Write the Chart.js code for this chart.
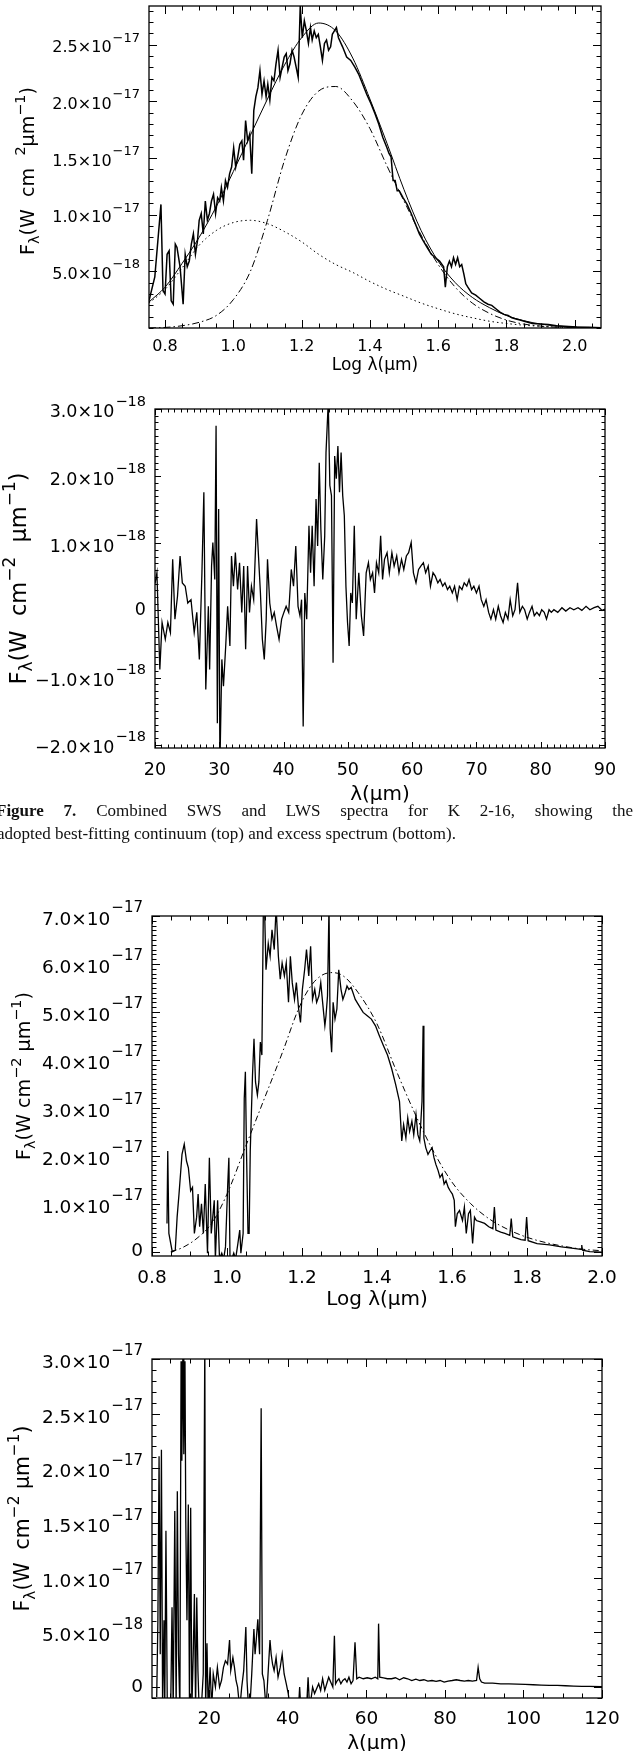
<!DOCTYPE html>
<html>
<head>
<meta charset="utf-8">
<script src="https://cdn.jsdelivr.net/npm/chart.js@4.4.1/dist/chart.umd.min.js"></script>
<style>
  html, body { margin: 0; padding: 0; background: #fff; }
  body { width: 634px; height: 1751px; position: relative; overflow: hidden; }
  canvas { position: absolute; left: 0; }
  .cap { position: absolute; font-family: "Liberation Serif", "Times New Roman", serif; font-size: 17px; line-height: 22px; color: #111; white-space: nowrap; }
</style>
</head>
<body>
<canvas id="p1" width="634" height="390" style="top:0px"></canvas>
<canvas id="p2" width="634" height="420" style="top:390px"></canvas>
<div class="cap" style="top:800px; left:-4px; width:637px; white-space:normal; text-align:justify; text-align-last:justify;"><b>Figure 7.</b> Combined SWS and LWS spectra for K 2-16, showing the</div>
<div class="cap" style="top:823px; left:-3px;">adopted best-fitting continuum (top) and excess spectrum (bottom).</div>
<canvas id="p3" width="634" height="430" style="top:890px"></canvas>
<canvas id="p4" width="634" height="421" style="top:1330px"></canvas>

<script>
// all fluxes in units of 1e-18 W cm^-2 um^-1

// ---- panel 1 : K 2-16 spectrum + fit (log lambda)
const p1SpecX = [0.753,0.770,0.788,0.794,0.800,0.806,0.812,0.818,0.824,0.830,0.835,0.844,0.853,0.859,0.865,0.871,0.877,0.883,0.889,0.895,0.900,0.906,0.912,0.918,0.924,0.930,0.936,0.942,0.948,0.954,0.960,0.965,0.971,0.977,0.983,0.989,0.995,1.001,1.007,1.013,1.019,1.025,1.030,1.036,1.042,1.048,1.054,1.060,1.066,1.072,1.078,1.084,1.090,1.096,1.101,1.107,1.113,1.119,1.125,1.131,1.137,1.143,1.149,1.155,1.160,1.166,1.172,1.178,1.184,1.190,1.196,1.202,1.208,1.214,1.220,1.226,1.231,1.237,1.243,1.249,1.255,1.261,1.267,1.273,1.279,1.285,1.290,1.296,1.302,1.308,1.320,1.332,1.344,1.356,1.367,1.379,1.391,1.403,1.415,1.426,1.438,1.450,1.456,1.462,1.468,1.474,1.480,1.486,1.497,1.509,1.521,1.533,1.545,1.556,1.568,1.580,1.592,1.604,1.616,1.621,1.627,1.633,1.639,1.645,1.651,1.657,1.663,1.669,1.675,1.681,1.687,1.698,1.710,1.722,1.734,1.746,1.757,1.769,1.781,1.793,1.805,1.816,1.828,1.840,1.852,1.876,1.899,1.923,1.947,1.970,2.006,2.041,2.077];
const p1SpecY = [2.4,4.5,10.9,3.3,3.0,6.5,6.8,2.4,2.1,7.4,7.1,5.4,2.1,6.5,5.4,5.9,7.4,8.3,6.5,7.7,9.5,10.1,8.3,11.2,9.5,10.1,11.2,11.8,10.1,11.5,11.2,12.4,11.2,13.0,12.4,13.6,14.2,15.9,14.2,15.1,16.2,16.5,14.8,18.3,16.5,17.1,13.6,19.2,20.4,21.2,22.7,20.6,21.8,20.4,21.5,20.1,22.1,21.8,23.3,24.5,22.1,23.0,23.9,24.2,22.7,23.3,24.5,23.9,23.0,22.1,28.4,25.6,27.1,26.2,25.1,26.5,25.4,26.2,25.6,25.9,24.8,23.6,25.1,25.4,24.5,24.8,25.9,26.2,26.5,25.6,24.8,23.9,23.6,23.0,22.4,21.5,20.6,19.8,18.9,18.0,16.8,15.9,15.4,15.1,13.0,13.0,12.1,12.1,11.5,10.9,10.1,9.2,8.3,7.7,7.1,6.5,6.2,5.9,5.4,3.6,5.4,5.9,5.4,6.2,5.6,6.2,5.4,5.6,4.8,3.9,3.6,3.1,2.9,2.6,2.3,2.1,2.0,1.7,1.4,1.2,1.1,0.9,0.8,0.7,0.6,0.4,0.35,0.3,0.2,0.15,0.09,0.06,0.03];
const p1FitX = [0.753,0.8,0.85,0.9,0.95,1.0,1.05,1.1,1.15,1.2,1.25,1.3,1.35,1.4,1.45,1.5,1.55,1.6,1.65,1.7,1.75,1.8,1.85,1.9,1.95,2.0,2.077];
const p1TotalFit = [2.3,3.6,5.7,8.0,10.7,13.8,17.0,20.2,23.2,25.6,26.9,26.2,23.8,20.2,16.3,12.2,8.6,5.9,4.0,2.7,1.8,1.1,0.65,0.35,0.17,0.08,0.03];
const p1WarmFit = [0,0.05,0.2,0.5,1.1,2.5,5.0,9.5,14.8,18.8,20.9,21.3,20.0,17.6,14.3,11.2,8.2,5.6,3.6,2.2,1.3,0.7,0.35,0.17,0.07,0.03,0.01];
const p1HotFit = [2.2,3.4,5.3,7.3,8.6,9.3,9.5,9.2,8.5,7.6,6.5,5.6,4.9,4.1,3.4,2.8,2.2,1.7,1.25,0.9,0.6,0.4,0.25,0.15,0.08,0.04,0.02];
const p1XTicks = [0.8,1.0,1.2,1.4,1.6,1.8,2.0];
const p1XLabels = ['0.8','1.0','1.2','1.4','1.6','1.8','2.0'];
const p1YTicks = [5,10,15,20,25];
const p1YMant = ['5.0×10','1.0×10','1.5×10','2.0×10','2.5×10'];
const p1YExp = ['−18','−17','−17','−17','−17'];

// ---- panel 2 : K 2-16 excess spectrum
const p2X = [20.0,20.3,20.75,21.1,21.6,22.0,22.4,22.75,23.1,23.5,23.9,24.25,24.7,25.1,25.6,26.1,26.5,26.9,27.3,27.6,27.9,28.3,28.5,28.8,29.0,29.3,29.5,29.7,29.9,30.1,30.4,30.65,31.0,31.3,31.65,31.9,32.2,32.5,32.85,33.15,33.5,33.8,34.1,34.4,34.7,35.0,35.35,35.8,36.1,36.4,36.7,37.0,37.3,37.5,37.85,38.2,38.55,38.9,39.3,39.7,40.05,40.4,40.8,41.2,41.55,41.9,42.25,42.55,42.8,43.05,43.3,43.6,43.95,44.2,44.45,44.75,45.05,45.3,45.55,45.8,46.1,46.4,46.6,46.95,47.2,47.45,47.7,47.95,48.2,48.45,48.7,48.95,49.2,49.45,49.7,49.95,50.2,50.45,50.7,51.0,51.3,51.7,52.1,52.45,52.85,53.2,53.5,53.85,54.15,54.45,54.8,55.1,55.4,55.7,56.1,56.45,56.85,57.2,57.6,57.95,58.35,58.7,59.1,59.45,59.85,60.2,60.6,61.0,61.35,61.75,62.1,62.5,62.85,63.25,63.6,64.0,64.35,64.75,65.1,65.5,65.85,66.25,66.6,67.0,67.35,67.75,68.1,68.5,68.85,69.25,69.6,70.0,70.4,70.75,71.15,71.5,71.9,72.25,72.65,73.0,73.4,73.75,74.15,74.5,74.9,75.25,75.65,76.0,76.4,76.75,77.15,77.5,77.9,78.25,78.65,79.0,79.4,79.8,80.15,80.55,80.9,81.3,81.65,82.05,82.65,83.3,83.9,84.55,85.15,85.8,86.4,87.05,87.65,88.3,88.9,89.55,90.0];
const p2Y = [0.40,0.56,-0.88,-0.18,-0.43,-0.18,-0.33,0.76,-0.13,0.21,0.81,0.41,0.36,0.11,0.16,-0.33,-0.03,-0.73,0.56,1.76,-1.18,0.06,-0.88,0.66,1.01,0.46,2.75,-1.68,1.51,-2.3,-0.73,-1.13,-0.53,0.06,-0.53,0.81,0.36,0.86,0.31,0.71,-0.03,0.66,-0.58,0.66,-0.03,0.36,0.16,1.36,0.81,0.26,-0.43,-0.73,-0.13,0.76,0.11,-0.13,-0.03,-0.23,-0.43,-0.13,-0.03,0.06,-0.03,0.61,0.36,0.96,0.06,-0.08,0.16,-1.73,0.26,-0.13,1.26,0.56,1.26,0.36,1.66,0.96,2.2,1.21,0.46,1.11,2.35,3.1,1.86,1.71,-0.78,2.3,1.96,2.45,1.76,2.35,1.71,1.41,0.36,-0.18,-0.53,0.26,0.11,1.26,-0.13,0.56,-0.08,-0.38,0.56,0.71,0.46,0.56,0.26,0.71,0.56,1.11,0.46,0.76,0.86,0.56,0.86,0.66,0.81,0.56,0.76,0.61,0.81,0.86,1.01,0.56,0.41,0.61,0.66,0.71,0.56,0.66,0.36,0.56,0.51,0.41,0.46,0.36,0.41,0.31,0.36,0.26,0.36,0.16,0.36,0.31,0.41,0.36,0.46,0.31,0.36,0.26,0.36,0.16,0.06,0.16,-0.03,-0.13,0.01,-0.13,0.06,-0.08,-0.18,-0.03,-0.13,0.16,-0.08,0.01,0.41,-0.03,0.06,0.01,-0.13,-0.03,0.06,-0.08,-0.03,-0.08,0.01,-0.03,-0.13,0.01,-0.03,0.01,-0.03,0.04,-0.01,0.04,0.01,0.04,0.0,0.06,0.01,0.04,0.06,0.0,0.02];
const p2XTicks = [20,30,40,50,60,70,80,90];
const p2XLabels = ['20','30','40','50','60','70','80','90'];
const p2YTicks = [-2,-1,0,1,2,3];
const p2YMant = ['−2.0×10','−1.0×10','0','1.0×10','2.0×10','3.0×10'];
const p2YExp = ['−18','−18','','−18','−18','−18'];

// ---- panel 3 : second object, spectrum + fit (log lambda)
const p3SpecX = [0.840,0.842,0.845,0.854,0.862,0.867,0.872,0.880,0.886,0.892,0.897,0.903,0.908,0.913,0.919,0.923,0.927,0.932,0.937,0.942,0.948,0.953,0.958,0.962,0.966,0.969,0.975,0.980,0.986,0.991,0.996,1.002,1.005,1.008,1.013,1.018,1.023,1.029,1.034,1.037,1.043,1.046,1.049,1.052,1.056,1.059,1.062,1.068,1.072,1.076,1.081,1.085,1.089,1.093,1.097,1.100,1.104,1.110,1.115,1.120,1.126,1.131,1.137,1.142,1.147,1.153,1.158,1.164,1.169,1.174,1.180,1.185,1.191,1.196,1.201,1.207,1.212,1.218,1.223,1.228,1.234,1.239,1.245,1.250,1.255,1.261,1.264,1.268,1.272,1.275,1.279,1.283,1.288,1.293,1.298,1.304,1.309,1.315,1.320,1.325,1.331,1.336,1.342,1.352,1.363,1.374,1.385,1.396,1.406,1.417,1.428,1.439,1.450,1.460,1.466,1.471,1.477,1.482,1.487,1.493,1.498,1.504,1.509,1.514,1.520,1.523,1.525,1.530,1.536,1.541,1.547,1.552,1.557,1.563,1.568,1.574,1.579,1.584,1.590,1.595,1.601,1.606,1.609,1.614,1.620,1.628,1.633,1.638,1.644,1.649,1.655,1.660,1.665,1.676,1.687,1.698,1.709,1.713,1.717,1.730,1.741,1.754,1.758,1.762,1.784,1.795,1.799,1.803,1.827,1.860,1.892,1.924,1.944,1.946,1.948,1.967,2.000];
const p3SpecY = [5.9,21.0,3.8,0,0.3,7.2,12.0,20.3,22.4,18.9,17.5,12.7,13.4,3.8,7.2,12.0,5.2,10.0,3.8,14.1,-0.3,19.6,3.8,7.2,10.7,-1.5,10.7,-1.5,-0.3,-1.5,1.0,14.1,19.6,-1.5,-1.5,-0.3,-1.5,1.7,4.5,-0.3,3.8,32.0,37.5,21.0,3.8,3.8,21.0,36.8,44.4,35.4,32.7,35.4,43.7,41.0,72,72,58.8,64.3,61.6,67.1,63.0,72,61.6,56.8,60.2,57.5,60.2,52.0,61.6,56.1,52.6,56.1,50.6,47.8,54.7,58.8,63.0,57.5,63.7,52.6,54.7,52.0,53.3,56.1,52.0,47.1,49.2,53.3,72,46.5,41.6,52.0,48.5,50.6,58.8,54.7,52.6,54.0,55.4,54.7,55.1,54.0,52.6,51.3,49.9,49.2,48.5,47.1,45.1,43.0,41.0,38.2,34.8,31.3,23.1,26.5,23.7,27.9,25.1,27.2,24.4,28.6,24.4,23.1,31.3,47.1,23.7,21.7,20.3,21.0,21.7,19.6,18.2,16.9,15.5,16.2,14.1,14.8,13.4,12.7,12.0,10.7,5.2,7.9,8.6,6.5,9.3,3.8,7.9,8.6,1.7,7.2,6.5,6.2,5.9,5.2,4.8,9.3,4.5,4.1,3.8,3.4,6.9,3.1,2.5,2.4,7.2,2.3,1.7,1.4,1.0,0.7,0.5,1.4,0.3,0.0,-0.1];
const p3FitX = [0.85,0.88,0.92,0.96,1.0,1.05,1.1,1.15,1.19,1.22,1.25,1.28,1.31,1.35,1.4,1.45,1.5,1.55,1.6,1.65,1.7,1.75,1.8,1.85,1.9,1.95,2.0];
const p3FitY = [0,0.8,2.8,6.0,12,22,32,42,50.5,55,57.5,58.2,57.5,54,47.5,38,29,21,14.5,10,6.8,4.6,3.0,1.9,1.1,0.5,0.2];
const p3XTicks = [0.8,1.0,1.2,1.4,1.6,1.8,2.0];
const p3XLabels = ['0.8','1.0','1.2','1.4','1.6','1.8','2.0'];
const p3YTicks = [0,10,20,30,40,50,60,70];
const p3YMant = ['0','1.0×10','2.0×10','3.0×10','4.0×10','5.0×10','6.0×10','7.0×10'];
const p3YExp = ['','−17','−17','−17','−17','−17','−17','−17'];

// ---- panel 4 : second object, excess spectrum
const p4X = [6.6,6.9,7.2,7.5,7.8,8.1,8.45,8.65,8.95,9.3,9.7,10.2,10.5,10.8,11.2,11.55,11.85,12.15,12.5,12.8,13.0,13.3,13.5,13.8,14.0,14.3,14.65,14.95,15.25,15.55,15.9,16.2,16.5,16.8,17.1,17.4,17.95,18.45,18.85,19.05,19.4,19.7,20.2,20.6,21.0,21.55,22.05,22.6,23.1,23.6,24.1,24.65,25.15,25.45,26.0,26.4,26.8,27.2,27.75,28.25,28.75,29.3,29.6,30.0,30.3,30.8,31.35,31.65,31.95,32.35,32.8,33.2,33.5,33.9,34.45,34.95,35.45,35.75,36.1,36.5,37.0,37.5,38.05,38.55,39.05,39.6,40.1,40.6,42.7,43.0,43.3,44.75,45.15,45.55,46.3,46.8,47.85,48.35,48.85,49.4,49.9,50.4,50.9,51.45,51.85,52.15,52.6,53.0,53.5,54.0,54.55,55.05,55.55,56.1,56.6,57.1,57.55,58.15,59.2,60.2,61.25,62.25,62.9,63.1,63.4,64.35,65.35,66.4,67.4,68.45,69.5,70.5,71.55,72.6,73.6,74.65,75.65,76.7,77.75,78.75,79.8,80.8,81.85,82.9,83.9,84.95,85.95,87.0,88.05,88.45,88.85,89.3,90.1,92.15,94.2,96.3,98.35,100.4,102.5,104.5,106.6,108.65,110.7,112.8,114.85,116.9,120.0];
const p4Y = [-0.9,6.1,21.1,3.0,21.7,-2,6.1,-2,14.3,-2,-2,-0.9,7.3,-2,16.1,-2,17.9,3.0,-2,29.8,20.7,32,21.3,29.8,15.2,6.1,16.7,-2,16.4,-2,3.0,8.5,-2,8.2,1.5,-2,-2,1.2,32,-2,4.0,-2,1.8,-2,1.2,0,1.8,0,0.6,1.8,2.4,2.1,4.3,1.5,2.7,1.8,0.6,0,-2,0,1.5,5.5,0.6,-2,-2,1.2,5.3,3.0,4.3,6.2,3.0,25.5,1.2,0.6,-2,1.2,4.3,3.0,2.1,1.5,2.7,0.9,1.8,3.0,1.2,0.3,-0.6,-2,-2,0,-2,-2,0.9,-2,0,-0.6,0.3,-0.3,0.76,-0.3,0.3,0.9,0.46,0,4.7,0.3,0.6,0.76,0.3,0.6,0.76,0.46,0.9,0.3,0.6,4.1,0.76,0.9,0.76,0.85,0.76,0.9,0.76,5.8,0.9,0.85,0.76,0.76,0.85,0.67,0.85,0.76,0.6,0.73,0.6,0.67,0.55,0.6,0.52,0.6,0.46,0.55,0.6,0.67,0.6,0.55,0.6,0.55,0.6,1.8,0.76,0.46,0.36,0.36,0.3,0.3,0.27,0.24,0.21,0.18,0.15,0.15,0.12,0.09,0.06,0.06,0.03];
const p4XTicks = [20,40,60,80,100,120];
const p4XLabels = ['20','40','60','80','100','120'];
const p4YTicks = [0,5,10,15,20,25,30];
const p4YMant = ['0','5.0×10','1.0×10','1.5×10','2.0×10','2.5×10','3.0×10'];
const p4YExp = ['','−18','−17','−17','−17','−17','−17'];

const FONT = '"DejaVu Sans", sans-serif';

function pts(xs, ys) {
  return xs.map((x, i) => ({ x: x, y: ys[i] }));
}

function stepsBetween(min, max, step) {
  const out = [];
  for (let i = Math.ceil(min / step - 1e-6); i * step <= max + 1e-9; i++) out.push(+(i * step).toFixed(6));
  return out;
}

// label like 2.5x10 with a raised exponent, right aligned at xr
function drawSci(ctx, mant, exp, xr, y, size, expSize) {
  ctx.textBaseline = 'middle';
  ctx.textAlign = 'right';
  if (exp) {
    ctx.font = expSize + 'px ' + FONT;
    const we = ctx.measureText(exp).width;
    ctx.fillText(exp, xr, y - size * 0.4);
    ctx.font = size + 'px ' + FONT;
    ctx.fillText(mant, xr - we - 1, y + size * 0.22);
  } else {
    ctx.font = size + 'px ' + FONT;
    ctx.fillText(mant, xr, y);
  }
}

// text with sub/superscript pieces, centred on the origin, scaled to a target length
function drawRich(ctx, parts, size, small, target) {
  const measure = (s, sm) => {
    let t = 0;
    parts.forEach(p => {
      ctx.font = (p[1] === 'n' ? s : sm) + 'px ' + FONT;
      p.w = ctx.measureText(p[0]).width;
      t += p.w;
    });
    return t;
  };
  let total = measure(size, small);
  if (target) {
    const f = target / total;
    size *= f; small *= f;
    total = measure(size, small);
  }
  let x = -total / 2;
  ctx.textAlign = 'left';
  ctx.textBaseline = 'middle';
  parts.forEach(p => {
    ctx.font = (p[1] === 'n' ? size : small) + 'px ' + FONT;
    const dy = p[1] === 'sub' ? size * 0.35 : (p[1] === 'sup' ? -size * 0.42 : 0);
    ctx.fillText(p[0], x, dy);
    x += p.w;
  });
}

const framePlugin = {
  id: 'frame',
  afterDatasetsDraw(chart, args, o) {
    const ctx = chart.ctx, a = chart.chartArea;
    const xs = chart.scales.x, ys = chart.scales.y;
    ctx.save();
    ctx.strokeStyle = '#000';
    ctx.fillStyle = '#000';
    ctx.lineWidth = 1.3;
    ctx.strokeRect(a.left, a.top, a.right - a.left, a.bottom - a.top);

    ctx.lineWidth = 1;
    ctx.beginPath();
    stepsBetween(xs.min, xs.max, o.xMinor).forEach(v => {
      const isMajor = o.xTicks.some(t => Math.abs(t - v) < o.xMinor / 10);
      const len = isMajor ? o.majorLen : o.minorLen;
      const px = Math.round(xs.getPixelForValue(v)) + 0.5;
      ctx.moveTo(px, a.bottom); ctx.lineTo(px, a.bottom - len);
      ctx.moveTo(px, a.top); ctx.lineTo(px, a.top + len);
    });
    stepsBetween(ys.min, ys.max, o.yMinor).forEach(v => {
      const isMajor = o.yTicks.some(t => Math.abs(t - v) < o.yMinor / 10);
      const len = isMajor ? o.majorLen : o.minorLen;
      const py = Math.round(ys.getPixelForValue(v)) + 0.5;
      ctx.moveTo(a.left, py); ctx.lineTo(a.left + len, py);
      ctx.moveTo(a.right, py); ctx.lineTo(a.right - len, py);
    });
    ctx.stroke();

    ctx.font = o.size + 'px ' + FONT;
    ctx.textAlign = 'center';
    ctx.textBaseline = 'middle';
    o.xTicks.forEach((v, i) => {
      ctx.fillText(o.xLabels[i], xs.getPixelForValue(v), a.bottom + o.xLabelGap);
    });
    o.yTicks.forEach((v, i) => {
      drawSci(ctx, o.yMant[i], o.yExp[i], a.left - 9, ys.getPixelForValue(v), o.size, o.expSize);
    });

    ctx.font = o.titleSize + 'px ' + FONT;
    ctx.textAlign = 'center';
    ctx.fillText(o.xTitle, (a.left + a.right) / 2, a.bottom + o.xTitleGap);

    ctx.translate(o.yTitleX, (a.top + a.bottom) / 2 + o.yTitleShift);
    ctx.rotate(-Math.PI / 2);
    drawRich(ctx, o.yTitle, o.titleSize, o.titleSize * 0.75, o.yTitleLen);
    ctx.restore();
  }
};

function lineSet(xs, ys, width, dash, smooth) {
  return {
    data: pts(xs, ys),
    borderColor: '#000',
    borderWidth: width,
    borderDash: dash,
    borderCapStyle: 'butt',
    pointRadius: 0,
    fill: false,
    tension: smooth ? 0.4 : 0,
    cubicInterpolationMode: smooth ? 'monotone' : 'default',
    clip: 0
  };
}

function makePanel(id, datasets, xr, yr, pad, frame) {
  return new Chart(document.getElementById(id), {
    type: 'line',
    data: { datasets: datasets },
    options: {
      responsive: false,
      animation: false,
      devicePixelRatio: 1,
      layout: { padding: pad },
      scales: {
        x: { type: 'linear', min: xr[0], max: xr[1], display: false },
        y: { type: 'linear', min: yr[0], max: yr[1], display: false }
      },
      plugins: { legend: { display: false }, tooltip: { enabled: false }, frame: frame }
    },
    plugins: [framePlugin]
  });
}

const yTitleStd = [['F','n'],['λ','sub'],['(W  cm','n'],['−2','sup'],['  μm','n'],['−1','sup'],[')','n']];

makePanel('p1', [
  lineSet(p1SpecX, p1SpecY, 1.5, [], false),
  lineSet(p1FitX, p1TotalFit, 1, [], true),
  lineSet(p1FitX, p1WarmFit, 1, [7, 3, 1.5, 3], true),
  lineSet(p1FitX, p1HotFit, 1, [1.5, 3], true)
], [0.753, 2.077], [0, 28.4], { left: 149, right: 33, top: 6, bottom: 62 }, {
  xTicks: p1XTicks, xLabels: p1XLabels, xMinor: 0.05,
  yTicks: p1YTicks, yMant: p1YMant, yExp: p1YExp, yMinor: 1,
  majorLen: 8, minorLen: 4.5, size: 16, expSize: 13,
  xLabelGap: 19, xTitle: 'Log λ(μm)', xTitleGap: 38, titleSize: 17,
  yTitle: [['F','n'],['λ','sub'],['(W  cm  ','n'],['2','sup'],['μm','n'],['−1','sup'],[')','n']],
  yTitleX: 29, yTitleShift: 4, yTitleLen: 168
});

makePanel('p2', [
  lineSet(p2X, p2Y, 1.3, [], false)
], [20, 90], [-2.05, 3.0], { left: 155, right: 29, top: 19, bottom: 62 }, {
  xTicks: p2XTicks, xLabels: p2XLabels, xMinor: 1,
  yTicks: p2YTicks, yMant: p2YMant, yExp: p2YExp, yMinor: 0.1,
  majorLen: 6, minorLen: 3.5, size: 17.5, expSize: 14.5,
  xLabelGap: 22, xTitle: 'λ(μm)', xTitleGap: 47, titleSize: 20,
  yTitle: yTitleStd, yTitleX: 20, yTitleShift: 0, yTitleLen: 212
});

makePanel('p3', [
  lineSet(p3SpecX, p3SpecY, 1.3, [], false),
  lineSet(p3FitX, p3FitY, 1, [6, 3, 1.5, 3], true)
], [0.8, 2.0], [-0.9, 70], { left: 152, right: 32, top: 26, bottom: 64 }, {
  xTicks: p3XTicks, xLabels: p3XLabels, xMinor: 0.05,
  yTicks: p3YTicks, yMant: p3YMant, yExp: p3YExp, yMinor: 1,
  majorLen: 8, minorLen: 4.5, size: 18.5, expSize: 15,
  xLabelGap: 22, xTitle: 'Log λ(μm)', xTitleGap: 44, titleSize: 20,
  yTitle: [['F','n'],['λ','sub'],['(W cm','n'],['−2','sup'],[' μm','n'],['−1','sup'],[')','n']],
  yTitleX: 25, yTitleShift: -10, yTitleLen: 168
});

makePanel('p4', [
  lineSet(p4X, p4Y, 1.3, [], false)
], [5.4, 120], [-1.0, 30], { left: 152, right: 32, top: 29, bottom: 53 }, {
  xTicks: p4XTicks, xLabels: p4XLabels, xMinor: 5,
  yTicks: p4YTicks, yMant: p4YMant, yExp: p4YExp, yMinor: 1,
  majorLen: 8, minorLen: 4.5, size: 18.5, expSize: 15,
  xLabelGap: 21, xTitle: 'λ(μm)', xTitleGap: 46, titleSize: 20,
  yTitle: [['F','n'],['λ','sub'],['(W  cm','n'],['−2','sup'],[' μm','n'],['−1','sup'],[')','n']],
  yTitleX: 24, yTitleShift: -10, yTitleLen: 186
});
</script>
</body>
</html>
